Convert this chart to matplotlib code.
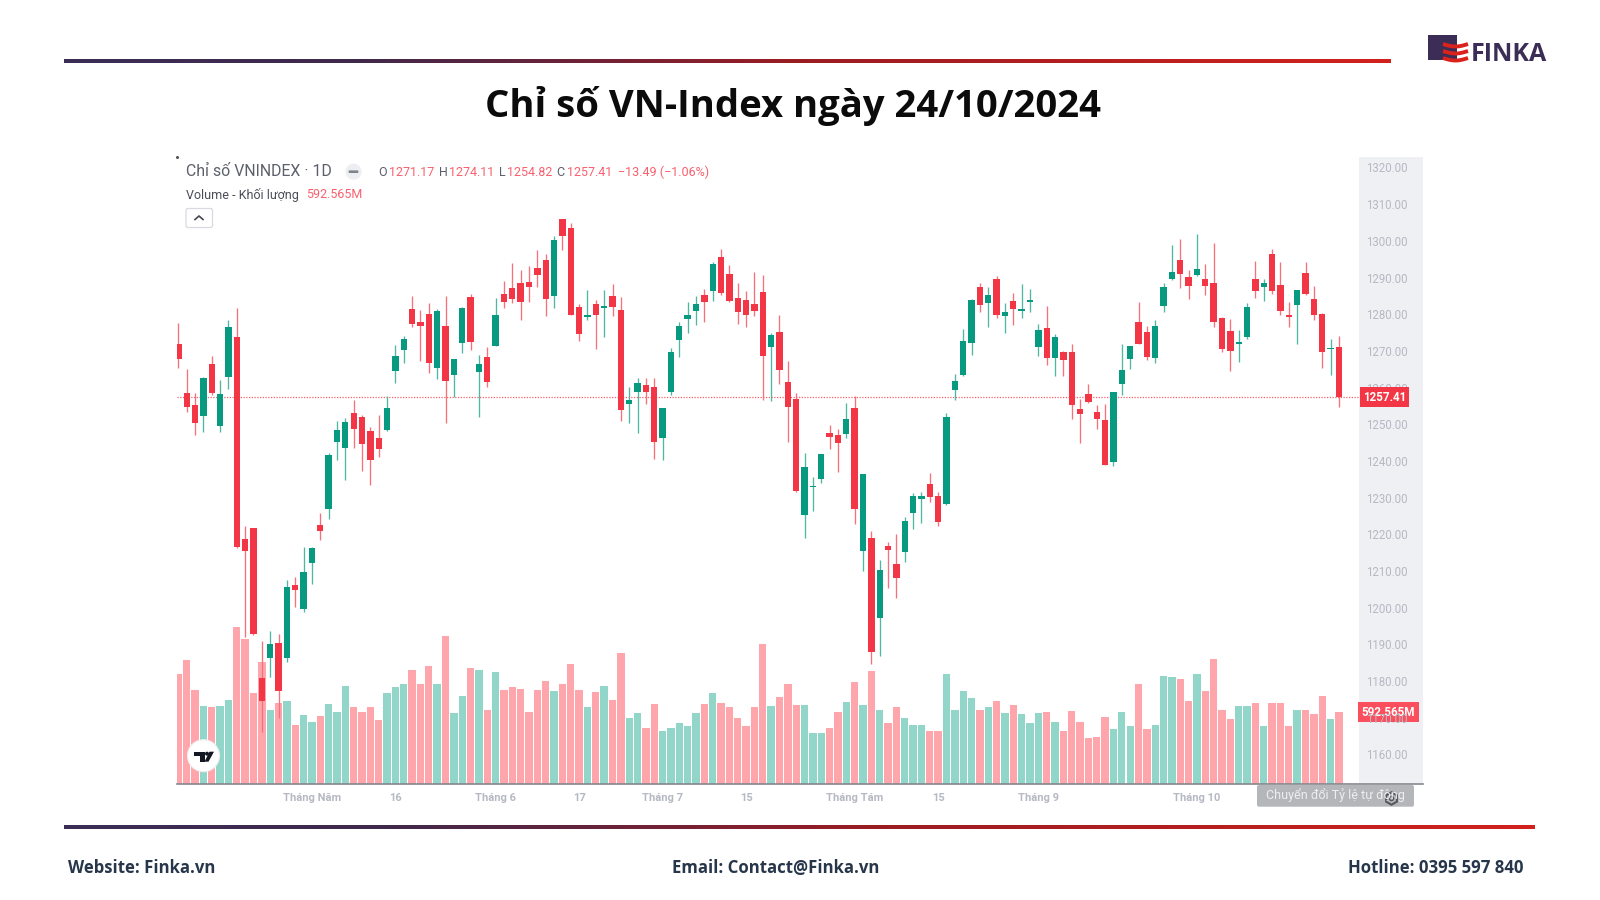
"""Render out.png: VN-Index daily candles and volume with the Finka slide frame."""

import matplotlib
matplotlib.use("Agg")
import matplotlib.pyplot as plt
import numpy as np
from matplotlib.colors import to_rgb
from matplotlib.patches import Circle, FancyBboxPatch, Polygon, Rectangle

RED = "#f23645"
GREEN = "#089981"
RED_WICK = "#f7707c"
GREEN_WICK = "#4fb6a4"
RED_VOL = "#ffa6ad"
GREEN_VOL = "#91d6c8"
DARK = "#3b2d55"
GREY_TEXT = "#b6b9c3"
HEAD_TEXT = "#5d606b"

opens = [
    1271.8, 1258.6, 1255.2, 1252.2, 1266.4, 1249.6, 1262.8, 1273.9, 1218.7, 1221.6,
    1180.8, 1186.3, 1190.4, 1186.3, 1206.2, 1199.5, 1212.1, 1222.5, 1226.8, 1245.2,
    1243.4, 1253.0, 1251.9, 1248.2, 1246.1, 1248.4, 1264.4, 1270.1, 1281.4, 1277.9,
    1280.1, 1265.4, 1276.7, 1263.3, 1272.2, 1284.8, 1264.1, 1268.4, 1271.4, 1285.5,
    1287.1, 1288.6, 1288.9, 1292.5, 1294.9, 1284.9, 1305.9, 1303.5, 1281.9, 1279.3,
    1282.9, 1281.6, 1284.9, 1281.1, 1255.6, 1258.7, 1260.6, 1260.1, 1246.2, 1258.7,
    1272.9, 1278.6, 1281.0, 1285.3, 1286.2, 1295.7, 1291.0, 1284.5, 1284.0, 1282.7,
    1286.0, 1271.0, 1275.1, 1261.4, 1256.8, 1225.2, 1232.8, 1235.1, 1247.7, 1247.1,
    1247.3, 1254.4, 1215.4, 1218.9, 1197.2, 1216.8, 1211.9, 1215.1, 1225.8, 1229.7,
    1233.7, 1230.5, 1228.1, 1259.2, 1263.3, 1272.2, 1287.3, 1283.1, 1289.7, 1279.5,
    1283.5, 1281.0, 1283.4, 1271.1, 1276.2, 1268.1, 1269.8, 1269.7, 1254.1, 1258.3,
    1253.4, 1251.1, 1239.8, 1261.0, 1267.8, 1277.8, 1275.1, 1268.0, 1282.3, 1289.7,
    1294.9, 1290.2, 1290.7, 1289.7, 1288.4, 1278.9, 1275.5, 1271.9, 1273.7, 1289.7,
    1287.5, 1296.5, 1287.9, 1279.9, 1282.6, 1291.3, 1284.2, 1280.1, 1270.4, 1271.17,
]
closes = [
    1267.9, 1254.8, 1250.2, 1262.7, 1258.4, 1258.1, 1276.6, 1216.4, 1215.4, 1192.8,
    1174.6, 1190.1, 1177.2, 1205.7, 1204.8, 1209.6, 1216.3, 1220.9, 1241.5, 1248.4,
    1250.5, 1248.6, 1244.5, 1240.1, 1243.1, 1254.5, 1268.7, 1273.1, 1277.4, 1276.9,
    1266.8, 1280.9, 1261.9, 1267.7, 1281.8, 1272.5, 1266.4, 1261.5, 1279.8, 1283.3,
    1284.1, 1283.3, 1287.5, 1290.6, 1284.1, 1300.1, 1301.3, 1279.8, 1274.6, 1279.7,
    1279.8, 1282.1, 1281.9, 1254.0, 1256.5, 1261.1, 1258.9, 1245.2, 1254.4, 1269.8,
    1276.7, 1279.9, 1282.9, 1283.4, 1293.7, 1285.7, 1283.6, 1280.5, 1279.8, 1281.0,
    1268.6, 1274.4, 1264.8, 1254.6, 1231.8, 1238.3, 1233.2, 1241.9, 1246.5, 1244.9,
    1251.5, 1226.9, 1236.5, 1187.9, 1210.3, 1215.6, 1208.1, 1223.5, 1230.3, 1230.3,
    1230.1, 1223.4, 1252.0, 1261.7, 1272.6, 1283.9, 1282.6, 1285.3, 1279.9, 1280.6,
    1281.3, 1281.5, 1283.8, 1275.7, 1268.1, 1273.9, 1267.6, 1255.1, 1252.9, 1256.0,
    1251.4, 1239.0, 1258.9, 1264.8, 1271.3, 1271.9, 1268.3, 1276.9, 1287.3, 1291.5,
    1290.9, 1287.8, 1292.3, 1287.8, 1277.9, 1270.4, 1269.9, 1272.2, 1281.9, 1286.2,
    1288.4, 1286.2, 1281.0, 1279.2, 1286.6, 1285.4, 1279.7, 1269.6, 1270.8, 1257.41,
]
highs = [
    1277.5, 1265.0, 1258.4, 1262.9, 1268.7, 1262.0, 1278.4, 1281.7, 1222.2, 1221.7,
    1190.9, 1193.7, 1192.7, 1207.5, 1208.2, 1216.6, 1216.6, 1225.7, 1242.1, 1250.9,
    1251.6, 1256.6, 1252.5, 1249.1, 1252.5, 1257.7, 1271.6, 1274.1, 1285.0, 1281.1,
    1283.0, 1281.4, 1285.0, 1267.9, 1282.0, 1285.5, 1268.9, 1271.1, 1284.5, 1289.1,
    1293.9, 1292.0, 1293.1, 1297.5, 1296.4, 1301.4, 1305.9, 1305.0, 1282.9, 1286.6,
    1284.0, 1286.6, 1288.2, 1284.8, 1260.2, 1262.7, 1262.5, 1262.5, 1254.5, 1270.7,
    1277.9, 1283.2, 1285.0, 1287.0, 1294.1, 1297.9, 1293.4, 1288.6, 1286.4, 1291.6,
    1290.7, 1274.9, 1279.8, 1267.3, 1258.6, 1242.2, 1235.5, 1242.0, 1249.8, 1248.7,
    1255.8, 1257.8, 1236.5, 1221.0, 1213.1, 1217.9, 1220.0, 1224.8, 1231.3, 1231.6,
    1236.6, 1231.6, 1253.1, 1263.8, 1275.9, 1284.1, 1288.4, 1287.3, 1290.5, 1283.0,
    1285.9, 1288.1, 1286.9, 1277.2, 1282.2, 1274.5, 1270.0, 1271.8, 1256.8, 1261.0,
    1255.1, 1255.4, 1258.9, 1271.8, 1271.3, 1283.2, 1276.9, 1278.4, 1288.4, 1298.8,
    1300.4, 1292.0, 1302.0, 1293.6, 1299.3, 1279.3, 1278.6, 1275.7, 1283.0, 1294.4,
    1289.5, 1297.7, 1294.1, 1283.2, 1286.6, 1294.1, 1287.7, 1280.2, 1273.1, 1274.11,
]
lows = [
    1265.2, 1253.4, 1247.1, 1247.8, 1258.0, 1248.0, 1259.5, 1216.2, 1191.9, 1192.6,
    1166.1, 1181.1, 1169.8, 1185.2, 1200.2, 1198.7, 1206.3, 1218.4, 1224.1, 1240.2,
    1234.8, 1243.4, 1237.3, 1233.4, 1241.0, 1248.2, 1261.3, 1266.6, 1276.6, 1267.2,
    1263.9, 1262.3, 1250.4, 1257.3, 1269.3, 1270.2, 1252.0, 1260.2, 1271.3, 1281.6,
    1283.1, 1278.4, 1283.3, 1287.5, 1279.5, 1281.8, 1297.5, 1279.7, 1272.7, 1278.4,
    1270.6, 1273.8, 1279.5, 1250.9, 1250.4, 1247.5, 1255.4, 1240.5, 1240.2, 1258.0,
    1268.4, 1274.8, 1277.0, 1277.9, 1283.6, 1285.3, 1283.2, 1277.3, 1276.4, 1279.5,
    1256.6, 1256.4, 1260.9, 1245.2, 1231.6, 1218.9, 1226.3, 1234.0, 1243.1, 1236.9,
    1246.2, 1222.7, 1209.9, 1184.5, 1186.9, 1205.2, 1202.7, 1212.5, 1221.3, 1223.1,
    1228.9, 1222.1, 1228.0, 1256.6, 1263.2, 1269.0, 1280.5, 1276.6, 1278.9, 1274.8,
    1277.0, 1278.9, 1280.5, 1268.6, 1266.1, 1263.1, 1263.1, 1251.4, 1245.0, 1255.9,
    1248.8, 1238.9, 1238.7, 1258.0, 1265.0, 1271.9, 1267.5, 1266.8, 1280.5, 1289.3,
    1287.2, 1284.1, 1290.5, 1285.1, 1276.6, 1269.8, 1264.6, 1267.0, 1273.2, 1284.3,
    1283.5, 1285.4, 1279.9, 1276.6, 1272.0, 1285.3, 1278.4, 1265.4, 1263.4, 1254.82,
]
# volume in millions of shares
volumes = [
    914, 1025, 781, 645, 632, 640, 692, 1302, 1202, 756,
    1008, 615, 670, 687, 488, 568, 512, 560, 662, 593,
    812, 632, 593, 632, 526, 748, 798, 823, 947, 828,
    978, 828, 1230, 590, 731, 956, 947, 615, 925, 781,
    806, 789, 598, 773, 853, 765, 823, 994, 773, 632,
    759, 814, 695, 1083, 546, 584, 465, 662, 435, 465,
    499, 474, 584, 662, 751, 670, 632, 546, 474, 632,
    1161, 648, 717, 831, 656, 656, 418, 418, 465, 598,
    679, 845, 656, 931, 607, 504, 632, 546, 490, 490,
    440, 435, 909, 607, 765, 712, 607, 632, 687, 584,
    656, 576, 504, 584, 593, 512, 435, 601, 512, 379,
    388, 554, 457, 593, 474, 831, 457, 490, 892, 884,
    870, 687, 914, 765, 1036, 609, 537, 648, 640, 665,
    482, 665, 670, 482, 615, 609, 576, 726, 537, 592.565,
]
price_ticks = list(range(1160, 1330, 10))
date_ticks = [16, 26, 38, 48, 58, 68, 81, 91, 103, 122]
date_labels = ["Tháng Năm", "16", "Tháng 6", "17", "Tháng 7", "15", "Tháng Tám", "15", "Tháng 9", "Tháng 10"]

W, H = 1600, 900
AX_L, AX_R, AX_T, AX_B = 176.5, 1358.7, 157, 783.5
PANEL_R = 1423


def overlay(zorder):
    # full-figure axes in pixel coordinates for the slide furniture
    a = fig.add_axes([0, 0, 1, 1], zorder=zorder)
    a.set_xlim(0, W)
    a.set_ylim(H, 0)
    a.axis("off")
    a.patch.set_visible(False)
    return a


def gradient_line(a, x0, x1, y, thick=4):
    pos = [0, 0.22, 0.55, 1]
    stops = np.array([to_rgb(DARK), to_rgb("#40294c"), to_rgb("#9a1c24"), to_rgb("#d2221c")])
    t = np.linspace(0, 1, 512)
    rgb = np.stack([np.interp(t, pos, stops[:, k]) for k in range(3)], axis=-1)[None, :, :]
    a.imshow(rgb, extent=[x0, x1, y + thick / 2, y - thick / 2], aspect="auto")
    a.set_xlim(0, W)
    a.set_ylim(H, 0)


plt.rcParams["font.family"] = ["Roboto", "DejaVu Sans"]
fig = plt.figure(figsize=(16, 9), dpi=100, facecolor="white")
bg = overlay(-1)
fg = overlay(5)

gradient_line(bg, 64, 1391, 61)
gradient_line(bg, 64, 1535, 827)
bg.add_patch(Rectangle((AX_R, AX_T), PANEL_R - AX_R, AX_B - AX_T, color="#eff0f4", lw=0))

bg.text(793, 106.5, "Chỉ số VN-Index ngày 24/10/2024", ha="center", va="center",
        fontsize=27.5, fontweight="bold", family="Open Sans", color="#0b0b0b")
footer = dict(va="center", fontsize=12.1, fontweight="bold", family="Open Sans", color="#27364a")
bg.text(68, 868, "Website: Finka.vn", ha="left", **footer)
bg.text(672, 868, "Email: Contact@Finka.vn", ha="left", **footer)
bg.text(1523, 868, "Hotline: 0395 597 840", ha="right", **footer)

# logo
bg.add_patch(Rectangle((1428, 35), 29, 25, color=DARK, lw=0))
for y in (44, 51, 58):
    xs = np.linspace(1443, 1468, 20)
    bg.plot(xs, y + 2.5 * np.sin((xs - 1443) / 25 * np.pi), color="#d9231c", lw=2.8, solid_capstyle="butt")
bg.text(1471, 54.5, "FINKA", ha="left", va="center", fontsize=18, fontweight="bold",
        family="Open Sans", color=DARK)

# chart
ax = fig.add_axes([AX_L / W, 1 - AX_B / H, (AX_R - AX_L) / W, (AX_B - AX_T) / H])
ax_vol = ax.twinx()
ax_vol.set_zorder(1)
ax.set_zorder(2)
ax.patch.set_visible(False)

x = np.arange(len(closes))
o, c, h, l = map(np.array, (opens, closes, highs, lows))
down = c < o

ax_vol.bar(x, volumes, width=0.88, color=np.where(down, RED_VOL, GREEN_VOL), linewidth=0)
ax_vol.set_ylim(0, (AX_B - AX_T) * volumes[-1] / 71.3)
ax_vol.axis("off")

ax.axhline(closes[-1], color="#f9606d", lw=0.9, ls=(0, (1, 1.2)), zorder=1)
ax.vlines(x, l, h, colors=np.where(down, RED_WICK, GREEN_WICK), lw=0.95, zorder=2)
ax.bar(x, np.maximum(np.abs(c - o), 0.45), bottom=np.minimum(o, c), width=0.76,
       color=np.where(down, RED, GREEN), linewidth=0, zorder=3)

ax.set_xlim(-0.22, 141.37)
ax.set_ylim(1320 - (AX_B - 167.5) / 3.667, 1320 + (167.5 - AX_T) / 3.667)
for side in ax.spines.values():
    side.set_visible(False)
ax.yaxis.tick_right()
ax.set_yticks(price_ticks, [f"{p:.2f}" for p in price_ticks])
ax.set_xticks(date_ticks, date_labels)
ax.tick_params(axis="y", length=0, pad=5, labelsize=8.3, labelcolor=GREY_TEXT)
ax.tick_params(axis="x", length=0, pad=6.5, labelsize=8, labelcolor=GREY_TEXT)
for t in ax.get_xticklabels():
    t.set_fontweight("bold")

# price tags on the right scale, drawn over the tick labels as on the live chart
ax.text(1.0218, closes[-1], f"{closes[-1]:.2f}", transform=ax.get_yaxis_transform(), ha="center",
        va="center", color="white", fontsize=8.4, fontweight="bold", zorder=6,
        bbox=dict(boxstyle="square,pad=0.28", fc=RED, ec="none"))
ax_vol.text(1.0252, volumes[-1], f"{volumes[-1]:.3f}M", transform=ax_vol.get_yaxis_transform(), ha="center",
            va="center", color="white", fontsize=8.4, fontweight="bold", zorder=6,
            bbox=dict(boxstyle="square,pad=0.28", fc="#fb4f5d", ec="none"))

# foreground: header, badge, axis line, tooltip
fg.plot([AX_L, PANEL_R], [783.8, 783.8], color="#85888f", lw=1.2)
fg.plot([177], [157], marker="o", ms=1.2, color="#555555")
fg.text(185.7, 171.5, "Chỉ số VNINDEX · 1D", ha="left", va="center", fontsize=11.4, color=HEAD_TEXT)
fg.add_patch(Circle((353.5, 171.7), 8, color="#eceef2", lw=0))
fg.add_patch(FancyBboxPatch((349, 170.7), 9, 2, boxstyle="round,pad=0.3", color="#7f828b", lw=0))
fg.text(185.7, 195, "Volume - Khối lượng", ha="left", va="center", fontsize=9, color="#4a4d56")
fg.text(306.5, 195, f"{volumes[-1]:.3f}M", ha="left", va="center", fontsize=9, color="#f9606d")
fg.add_patch(FancyBboxPatch((186, 208.5), 26.5, 19, boxstyle="round,pad=0,rounding_size=2",
                            fc="white", ec="#d8dae2", lw=0.9))
fg.plot([195, 199, 203], [219.5, 216, 219.5], color="#444750", lw=1.2)
for xp, s, col in [
    (378, "O", HEAD_TEXT), (389.3, f"{opens[-1]:.2f}", "#f9606d"),
    (439.3, "H", HEAD_TEXT), (449.3, f"{highs[-1]:.2f}", "#f9606d"),
    (499, "L", HEAD_TEXT), (507.3, f"{lows[-1]:.2f}", "#f9606d"),
    (556.7, "C", HEAD_TEXT), (567.3, f"{closes[-1]:.2f}", "#f9606d"),
    (617.7, "−13.49 (−1.06%)", "#f9606d"),
]:
    fg.text(xp, 172.3, s, ha="left", va="center", fontsize=9, color=col)

# TradingView badge
fg.add_patch(Circle((203.5, 755.7), 16, color="white", ec="#eeeeee", lw=0.8))
fg.add_patch(Polygon([(194, 751.7), (205, 751.7), (205, 761.7), (199.5, 761.7), (199.5, 755.7), (194, 755.7)],
                     color="#131722", lw=0))
fg.add_patch(Circle((207, 753.7), 2, color="#131722", lw=0))
fg.add_patch(Polygon([(209.5, 751.7), (214, 751.7), (208.5, 761.7), (204.5, 761.7)], color="#131722", lw=0))

fg.add_patch(FancyBboxPatch((1257, 785), 157, 21.7, boxstyle="round,pad=0,rounding_size=2",
                            fc="#b4b6ba", ec="none"))
fg.text(1335.5, 795.5, "Chuyển đổi Tỷ lệ tự động", ha="center", va="center", fontsize=9, color="#eceef0")
fg.plot([1391], [798], marker="h", ms=9, mfc="none", mec="#55585f", mew=1.5)
fg.plot([1391], [798], marker="o", ms=3, mfc="none", mec="#55585f", mew=1.0)

fig.savefig("out.png", dpi=100, facecolor="white")
